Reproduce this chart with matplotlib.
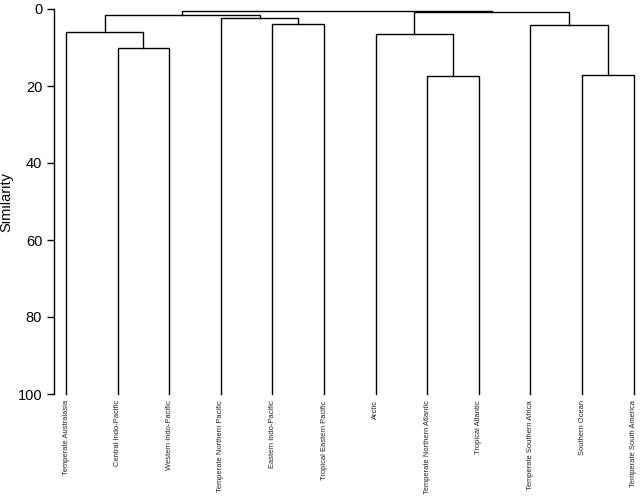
import matplotlib.pyplot as plt

plt.rcParams['font.family'] = ['Liberation Sans', 'DejaVu Sans']

# leaf order, left to right
regions = ['Temperate Australasia', 'Central Indo-Pacific', 'Western Indo-Pacific',
           'Temperate Northern Pacific', 'Eastern Indo-Pacific', 'Tropical Eastern Pacific',
           'Arctic', 'Temperate Northern Atlantic', 'Tropical Atlantic',
           'Temperate Southern Africa', 'Southern Ocean', 'Temperate South America']

# merges: children are leaf indices or 'n<k>' (the k-th merge)
merge_left = [1, 4, 0, 3, 'n2', 7, 10, 6, 9, 'n7', 'n4']
merge_right = [2, 5, 'n0', 'n1', 'n3', 8, 11, 'n5', 'n6', 'n8', 'n9']
merge_height = [10.0, 3.8, 6.1, 2.4, 1.5, 17.3, 17.1, 6.6, 4.1, 0.9, 0.6]

fig = plt.figure(figsize=(6.42, 4.99), dpi=100)
ax = fig.add_axes([54 / 642, 1 - 394 / 499, 586 / 642, 385 / 499])

# leaf positions (x, top of branch)
pos = {i: (i + 1, 100.0) for i in range(len(regions))}

for k in range(len(merge_height)):
    xa, ya = pos[merge_left[k]]
    xb, yb = pos[merge_right[k]]
    h = merge_height[k]
    ax.plot([xa, xa, xb, xb], [ya, h, h, yb], color='black', lw=1.0,
            solid_joinstyle='miter', clip_on=False)
    pos['n%d' % k] = ((xa + xb) / 2, h)

for i, name in enumerate(regions):
    ax.text(i + 1, 101.6, name, rotation=90, ha='center', va='top', fontsize=5.4,
            color='#222222')

ax.set_ylim(100, 0)
ax.set_xlim(1 - 12 / 51.6, 1 - 12 / 51.6 + 586 / 51.6)
for s in ['top', 'right', 'bottom']:
    ax.spines[s].set_visible(False)
ax.spines['left'].set_linewidth(1.0)
ax.set_xticks([])
ax.set_yticks([0, 20, 40, 60, 80, 100])
ax.tick_params(axis='y', length=5, width=1.0, labelsize=10.5)
ax.set_ylabel('Similarity', fontsize=10.5, labelpad=3)

fig.savefig('out.png', dpi=100)
